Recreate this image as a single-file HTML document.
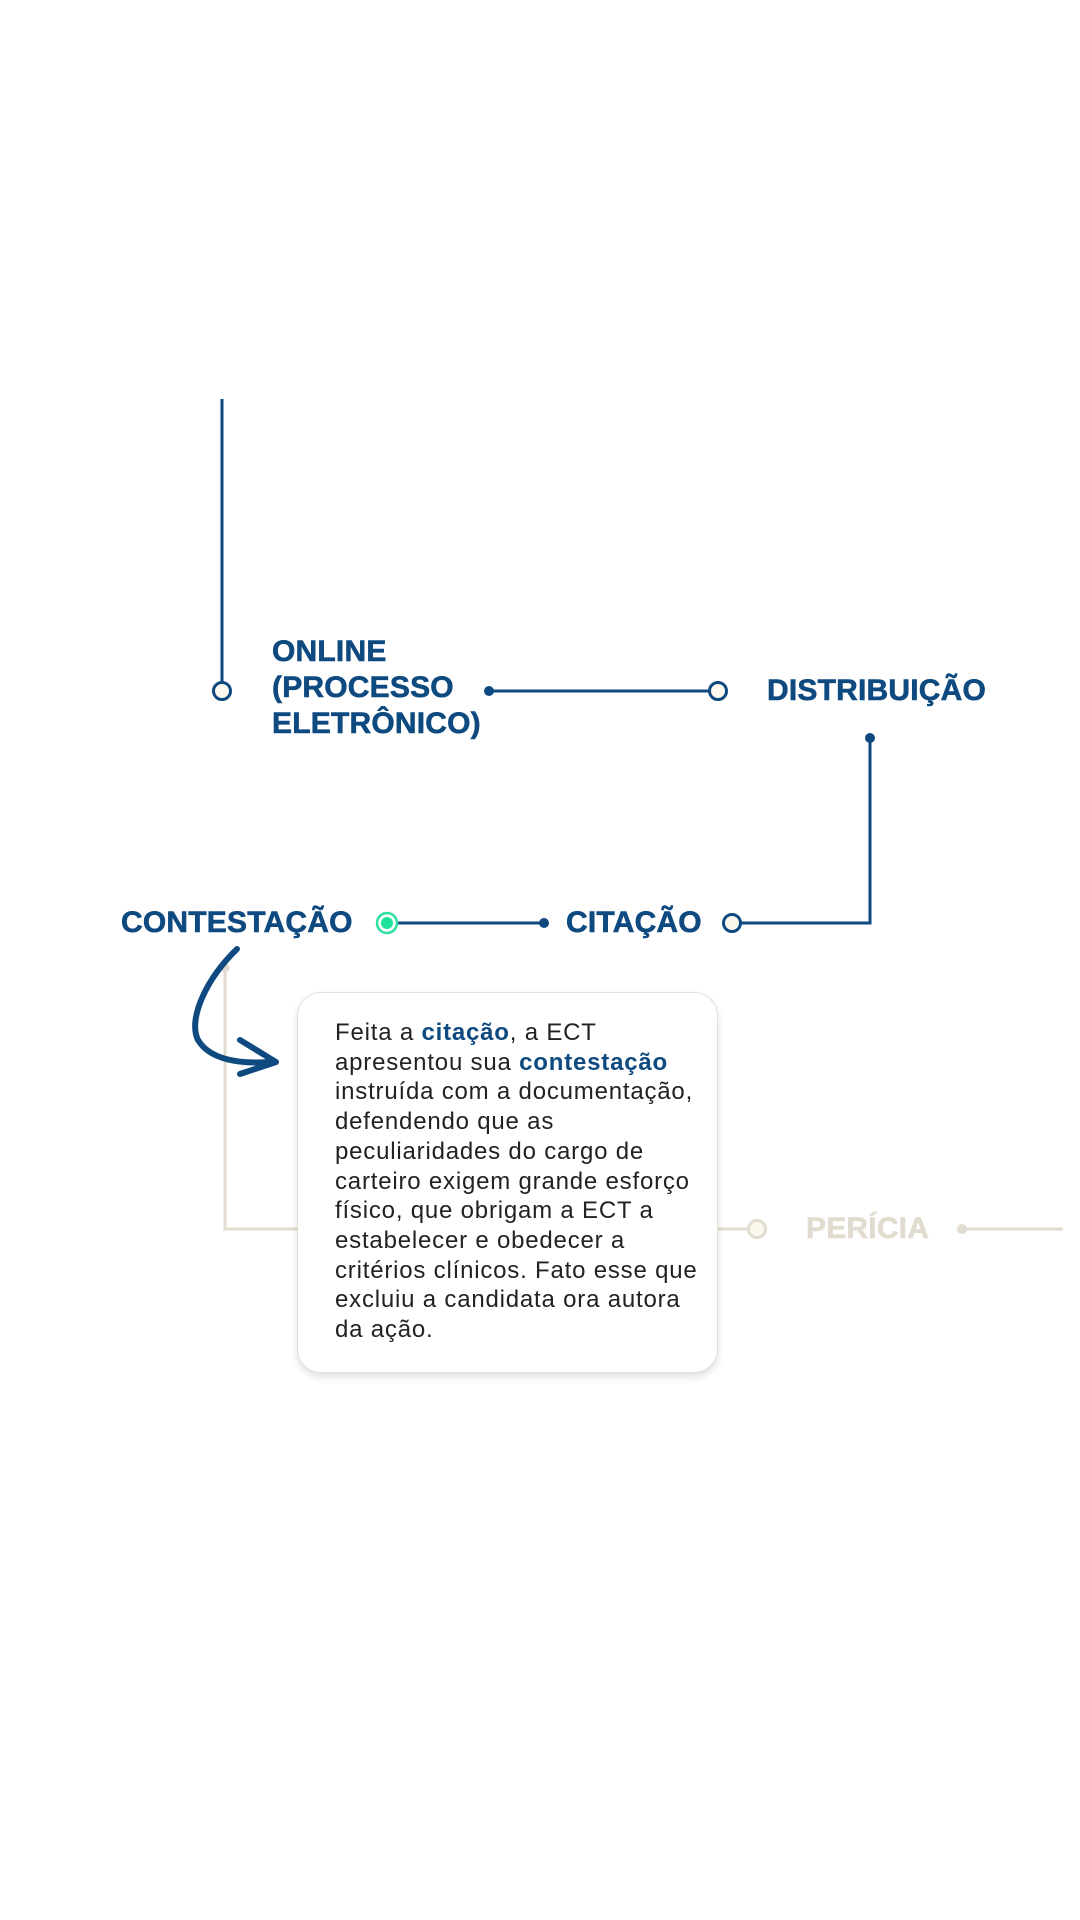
<!DOCTYPE html>
<html><head><meta charset="utf-8"><style>
html,body{margin:0;padding:0;background:#fff;width:1080px;height:1920px;overflow:hidden;position:relative;font-family:"Liberation Sans",sans-serif}
.h{position:absolute;font-weight:bold;color:#0e4a80;font-size:30px;letter-spacing:0.2px;line-height:36px;white-space:nowrap;-webkit-text-stroke:0.6px #0e4a80}
.card{position:absolute;left:297px;top:992px;width:421px;height:381px;background:#fff;border:1px solid #e6dfd3;border-radius:24px;box-shadow:0 4px 8px rgba(0,0,0,0.12);box-sizing:border-box}
.txt{position:absolute;left:335px;top:1018px;font-size:24px;letter-spacing:0.8px;line-height:29.7px;color:#222;white-space:nowrap}
.txt b{color:#0e4a80}
</style></head><body>
<svg width="1080" height="1920" style="position:absolute;left:0;top:0">
<g stroke="#0e4a80" stroke-width="3" fill="none">
<line x1="222" y1="399" x2="222" y2="682"/>
<line x1="489" y1="691" x2="709" y2="691"/>
<polyline points="870,738 870,923 741,923"/>
<line x1="544" y1="923" x2="396" y2="923"/>
</g>
<g fill="#0e4a80"><circle cx="489" cy="691" r="5"/><circle cx="870" cy="738" r="5"/><circle cx="544" cy="923" r="5"/></g>
<g stroke="#0e4a80" stroke-width="3" fill="#fdf8ee">
<circle cx="222" cy="691" r="8.5"/><circle cx="718" cy="691" r="8.5"/><circle cx="732" cy="923" r="8.5"/>
</g>
<circle cx="387" cy="923" r="10" fill="#fff" stroke="#2fe0a0" stroke-width="2.5"/>
<circle cx="387" cy="923" r="6" fill="#1ee39a"/>
<g stroke="#e2dbcf" stroke-width="3" fill="none">
<polyline points="225,968 225,1229 300,1229"/>
<line x1="716" y1="1229" x2="748" y2="1229"/>
<line x1="962" y1="1229" x2="1063" y2="1229"/>
</g>
<circle cx="225" cy="968" r="4.5" fill="#e2dbcf"/>
<circle cx="962" cy="1229" r="5" fill="#e2dbcf"/>
<circle cx="757" cy="1229" r="8.5" fill="#fdf8ee" stroke="#e2dbcf" stroke-width="3"/>
<path d="M237,949 C205,980 188,1020 198,1040 C210,1060 240,1064 268,1062" stroke="#0e4a80" stroke-width="6" fill="none" stroke-linecap="round"/>
<path d="M240,1040 L276,1062 L240,1074" stroke="#0e4a80" stroke-width="6" fill="none" stroke-linecap="round" stroke-linejoin="round"/>
</svg>
<div class="h" style="left:272px;top:634px">ONLINE<br>(PROCESSO<br>ELETRÔNICO)</div>
<div class="h" style="left:767px;top:673px">DISTRIBUIÇÃO</div>
<div class="h" style="left:566px;top:905px">CITAÇÃO</div>
<div class="h" style="left:121px;top:905px">CONTESTAÇÃO</div>
<div class="h" style="left:806px;top:1211px;color:#e2dbcf;-webkit-text-stroke:0.6px #e2dbcf">PERÍCIA</div>
<div class="card"></div>
<div class="txt">Feita a <b>citação</b>, a ECT<br>apresentou sua <b>contestação</b><br>instruída com a documentação,<br>defendendo que as<br>peculiaridades do cargo de<br>carteiro exigem grande esforço<br>físico, que obrigam a ECT a<br>estabelecer e obedecer a<br>critérios clínicos. Fato esse que<br>excluiu a candidata ora autora<br>da ação.</div>
</body></html>
